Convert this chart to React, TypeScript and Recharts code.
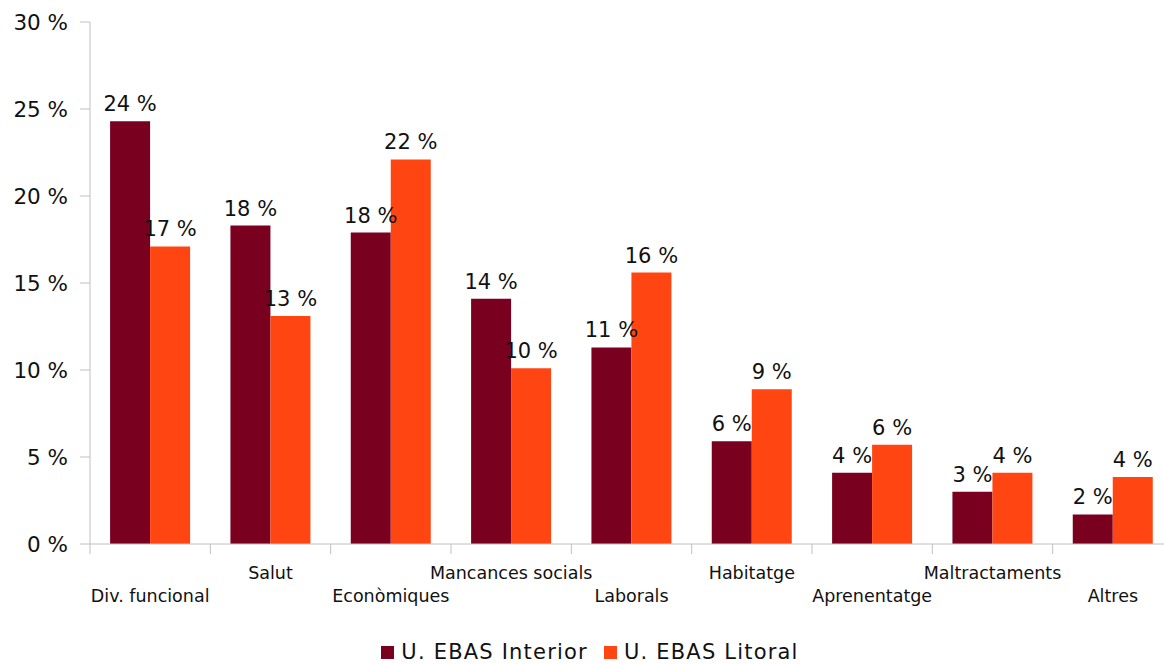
import { Bar, BarChart, LabelList, XAxis, YAxis } from "recharts";

const CATEGORIES = [
  "Div. funcional", "Salut", "Econòmiques", "Mancances socials", "Laborals",
  "Habitatge", "Aprenentatge", "Maltractaments", "Altres",
];
const INTERIOR = [24.3, 18.3, 17.9, 14.1, 11.3, 5.9, 4.1, 3.0, 1.7];
const LITORAL = [17.1, 13.1, 22.1, 10.1, 15.6, 8.9, 5.7, 4.1, 3.85];
const Y_TICKS = [0, 5, 10, 15, 20, 25, 30];

const DARK = "#7a0020";
const ORANGE = "#ff4612";
const AXIS = "#c0c0c0";
const FONT = "'DejaVu Sans', Verdana, sans-serif";
const W = 1173, LEFT = 90;
const BAND = (W - LEFT) / CATEGORIES.length;

const data = CATEGORIES.map((c, i) => ({ cat: c, interior: INTERIOR[i], litoral: LITORAL[i] }));

// category labels alternate between two rows; ticks sit on the band edges
function CatTick({ x, y, payload, index }: any) {
  const dy = index % 2 === 1 ? 35 : 58;
  const last = index === CATEGORIES.length - 1;
  return (
    <g>
      <line x1={x - BAND / 2} x2={x - BAND / 2} y1={y} y2={y + 10} stroke={AXIS} />
      {last && <line x1={x + BAND / 2} x2={x + BAND / 2} y1={y} y2={y + 10} stroke={AXIS} />}
      <text x={x} y={y + dy} textAnchor="middle" fontSize={17.5} fill="#111" fontFamily={FONT}>
        {payload.value}
      </text>
    </g>
  );
}

const ValueLabel = ({ x, y, width, value }: any) => (
  <text x={x + width / 2} y={y - 10} textAnchor="middle" fontSize={21} fill="#111" fontFamily={FONT}>
    {`${Math.round(Number(value))} %`}
  </text>
);

export default function App() {
  return (
    <div style={{ position: "absolute", left: 0, top: 0, fontFamily: FONT }}>
      <BarChart width={W} height={620} data={data} barGap={0} barCategoryGap="16.7%"
        margin={{ top: 22, right: 0, bottom: 0, left: 0 }}>
        <XAxis dataKey="cat" stroke={AXIS} tickLine={false} tickSize={0} tickMargin={0}
          tick={<CatTick />} interval={0} height={76} />
        <YAxis domain={[0, 30]} ticks={Y_TICKS} width={LEFT} stroke={AXIS} tickSize={10} tickMargin={12}
          tickFormatter={(v) => `${v} %`} tick={{ fontSize: 21.5, fill: "#111", fontFamily: FONT }} />
        <Bar dataKey="interior" fill={DARK} isAnimationActive={false}>
          <LabelList dataKey="interior" content={<ValueLabel />} />
        </Bar>
        <Bar dataKey="litoral" fill={ORANGE} isAnimationActive={false}>
          <LabelList dataKey="litoral" content={<ValueLabel />} />
        </Bar>
      </BarChart>
      <div style={{ position: "absolute", top: 640, left: 0, width: 1180, display: "flex",
        justifyContent: "center", gap: 16, fontSize: 21, lineHeight: "24px", color: "#111",
        letterSpacing: 1.2 }}>
        {[["U. EBAS Interior", DARK], ["U. EBAS Litoral", ORANGE]].map(([l, c]) => (
          <span key={l} style={{ display: "flex", alignItems: "center", gap: 7 }}>
            <span style={{ width: 13, height: 13, background: c, display: "inline-block" }} />
            {l}
          </span>
        ))}
      </div>
    </div>
  );
}
